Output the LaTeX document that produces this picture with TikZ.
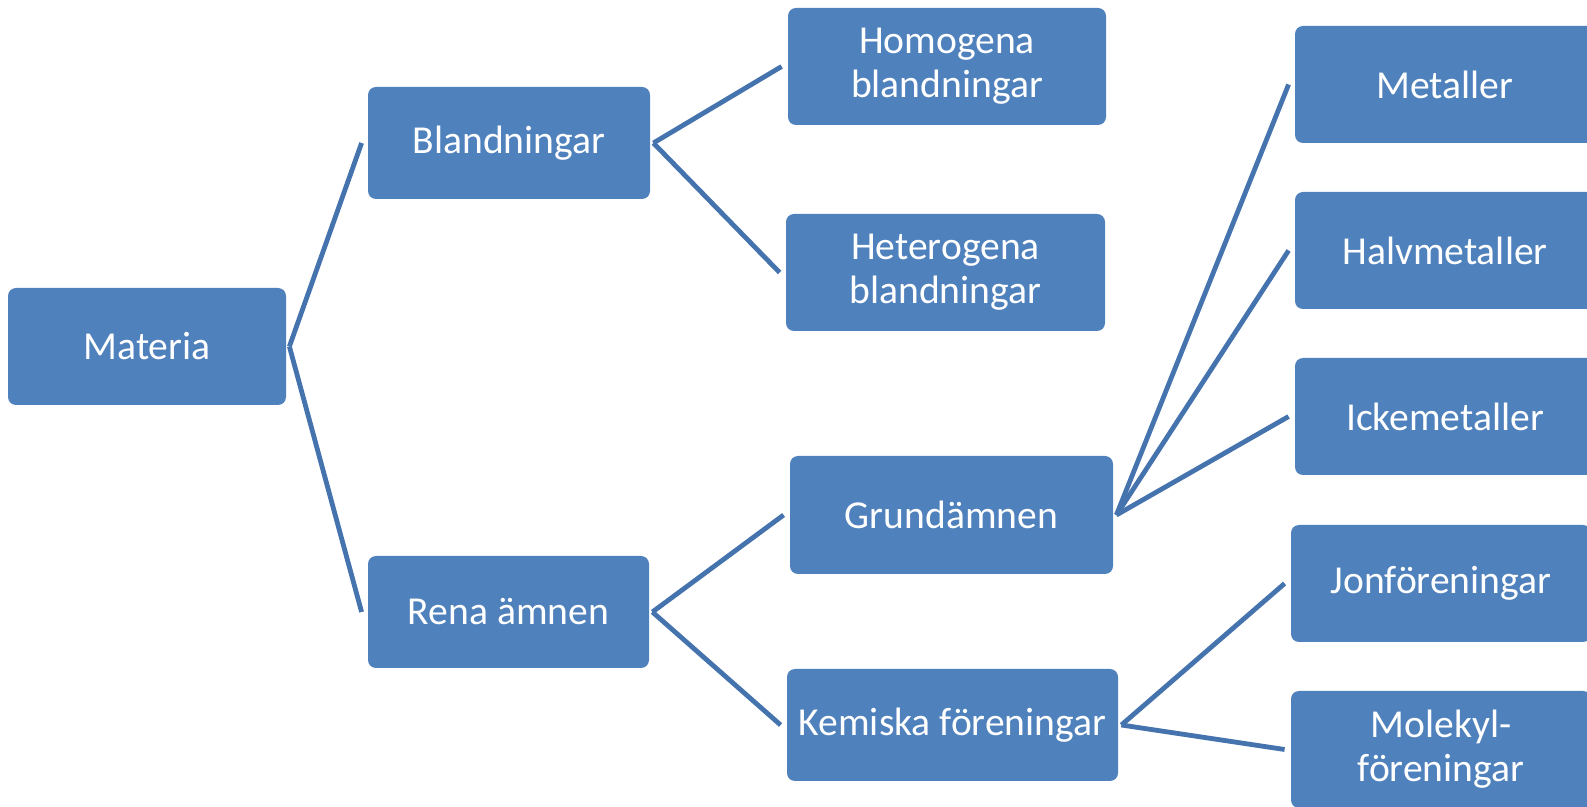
\documentclass[tikz,border=0pt]{standalone}
\usepackage{fontspec}
\setmainfont{Carlito}
\usetikzlibrary{calc}
\definecolor{boxblue}{HTML}{4F81BD}
\definecolor{lineblue}{HTML}{4473AE}
\begin{document}
\begin{tikzpicture}[x=0.5pt,y=-0.5pt,
  box/.style={draw=none, fill=boxblue, rounded corners=4pt, text=white,
    align=center, inner sep=0pt, font=\fontsize{19.8}{22}\selectfont},
  link/.style={draw=lineblue, line width=2.4pt}]
\clip (0,0) rectangle (1587,807);
\fill[white] (0,0) rectangle (1587,807);
\node[box, minimum width=139pt, minimum height=58.5pt] (mat) at (147,346.5) {Materia};
\node[box, minimum width=141pt, minimum height=56pt] (bla) at (509,143) {Blandningar};
\node[box, minimum width=140.5pt, minimum height=56pt] (ren) at (508.5,612) {Rena ämnen};
\node[box, minimum width=159pt, minimum height=58.5pt] (hom) at (947,66.5) {Homogena\\blandningar};
\node[box, minimum width=159.5pt, minimum height=58.5pt] (het) at (945.5,272.5) {Heterogena\\blandningar};
\node[box, minimum width=161.5pt, minimum height=59pt] (gru) at (951.5,515) {Grundämnen};
\node[box, minimum width=165.5pt, minimum height=56pt] (kem) at (952.5,725) {Kemiska föreningar};
\node[box, minimum width=150pt, minimum height=58.5pt] (met) at (1445,84.5) {Metaller};
\node[box, minimum width=150pt, minimum height=58.5pt] (hal) at (1445,250.5) {Halvmetaller};
\node[box, minimum width=150pt, minimum height=58.5pt] (ick) at (1445,416.5) {Ickemetaller};
\node[box, minimum width=150pt, minimum height=58.5pt] (jon) at (1441,583.5) {Jonföreningar};
\node[box, minimum width=150pt, minimum height=58.5pt] (mol) at (1441,749.5) {Molekyl-\\föreningar};
\foreach \a/\b in {mat/bla, mat/ren, bla/hom, bla/het, ren/gru, ren/kem,
                   gru/met, gru/hal, gru/ick, kem/jon, kem/mol}{
  \draw[link] ($(\a.east)+(3,0)$) -- ($(\b.west)+(-6,0)$);
}
\end{tikzpicture}
\end{document}
